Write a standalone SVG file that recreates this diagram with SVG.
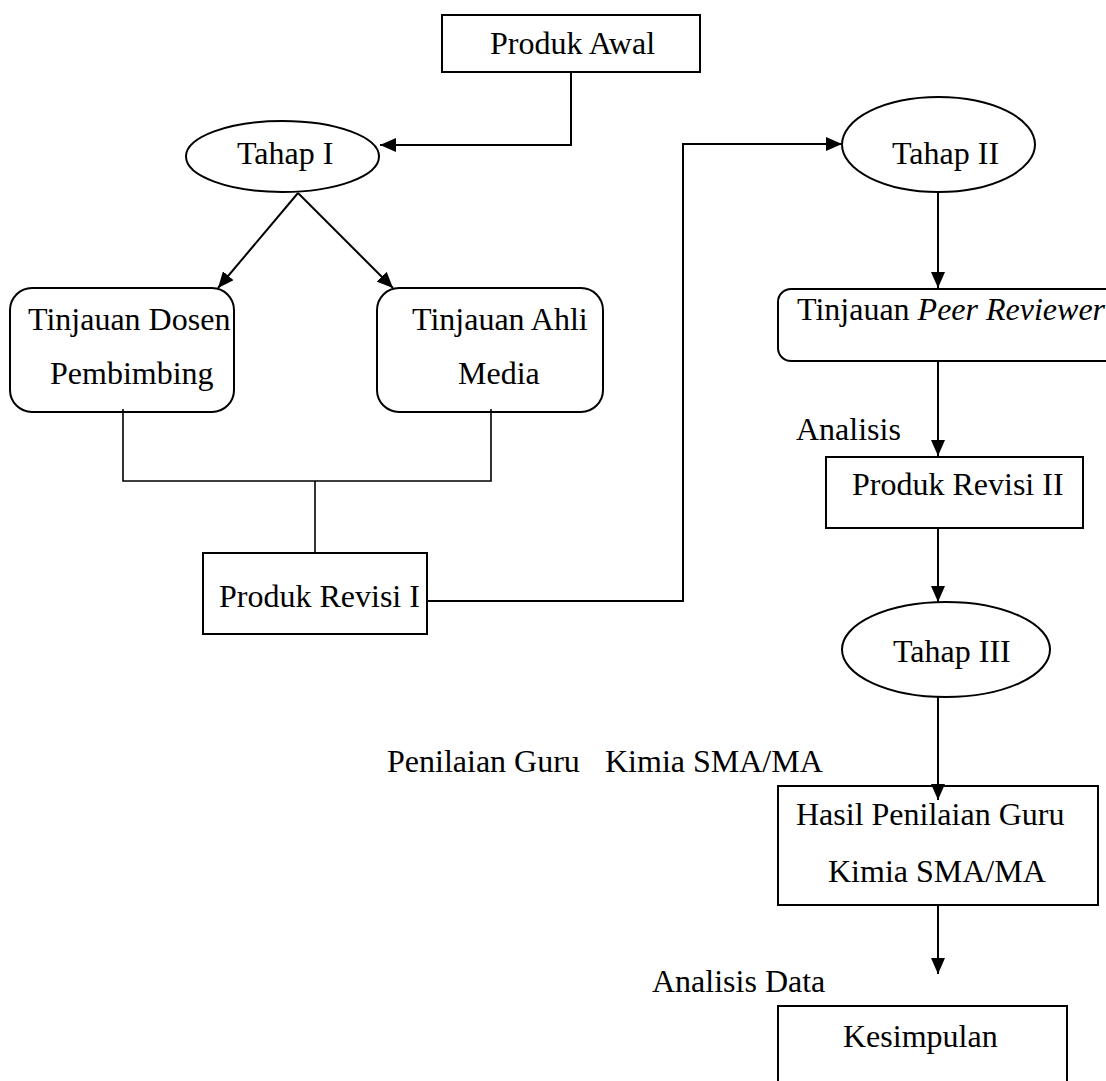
<svg xmlns="http://www.w3.org/2000/svg" width="1106" height="1081" viewBox="0 0 1106 1081">
<style>
.n{fill:#fff;stroke:#000;stroke-width:2}
.t{font-family:'Liberation Serif','Times New Roman',serif;font-size:32px;fill:#000}
.c{fill:none;stroke:#000;stroke-width:2}
.thin{stroke-width:1.6}
</style>
<defs>
<marker id="ah" viewBox="0 0 16 14" refX="16" refY="7" markerWidth="16" markerHeight="14" markerUnits="userSpaceOnUse" orient="auto"><path d="M0,0 L16,7 L0,14 Z" fill="#000"/></marker>
</defs>
<rect width="1106" height="1081" fill="#fff"/>
<g id="produk-awal"><rect class="n" x="442" y="15" width="258" height="57"/><text class="t" x="490" y="54">Produk Awal</text></g>
<g id="tahap-1"><ellipse class="n" cx="282.5" cy="156.5" rx="96.5" ry="35.5"/><text class="t" x="237" y="164">Tahap I</text></g>
<g id="tinjauan-dosen"><rect class="n" x="10" y="288" width="224" height="124" rx="22"/><text class="t" x="28" y="330">Tinjauan Dosen</text><text class="t" x="50" y="384">Pembimbing</text></g>
<g id="tinjauan-ahli"><rect class="n" x="377" y="288" width="226" height="124" rx="22"/><text class="t" x="412" y="330">Tinjauan Ahli</text><text class="t" x="458" y="384">Media</text></g>
<g id="produk-revisi-1"><rect class="n" x="203" y="553" width="224" height="81"/><text class="t" x="219" y="607">Produk Revisi I</text></g>
<g id="tahap-2"><ellipse class="n" cx="938.5" cy="144.5" rx="96.5" ry="47.5"/><text class="t" x="892" y="164">Tahap II</text></g>
<g id="tinjauan-peer"><rect class="n" x="778" y="289" width="340" height="72" rx="13"/><text class="t" x="797" y="320">Tinjauan <tspan font-style="italic">Peer Reviewer</tspan></text></g>
<g id="label-analisis"><text class="t" x="796" y="440">Analisis</text></g>
<g id="produk-revisi-2"><rect class="n" x="826" y="457" width="257" height="71"/><text class="t" x="852" y="495">Produk Revisi II</text></g>
<g id="tahap-3"><ellipse class="n" cx="946" cy="649.5" rx="104" ry="47.5"/><text class="t" x="893" y="662">Tahap III</text></g>
<g id="label-penilaian"><text class="t" x="387" y="772">Penilaian Guru<tspan x="605">Kimia SMA/MA</tspan></text></g>
<g id="hasil-penilaian"><rect class="n" x="778" y="786" width="320" height="119"/><text class="t" x="796" y="825">Hasil Penilaian Guru</text><text class="t" x="828" y="882">Kimia SMA/MA</text></g>
<g id="label-analisis-data"><text class="t" x="652" y="992">Analisis Data</text></g>
<g id="kesimpulan"><rect class="n" x="778" y="1006" width="289" height="100"/><text class="t" x="843" y="1047">Kesimpulan</text></g>
<g id="connectors">
<path class="c" d="M571,72 V145 H380" marker-end="url(#ah)"/>
<path class="c" d="M298,193 L218,288" marker-end="url(#ah)"/>
<path class="c" d="M298,193 L393,288" marker-end="url(#ah)"/>
<path class="c thin" d="M123,409 V481 H491 V409"/>
<path class="c thin" d="M315,481 V553"/>
<path class="c" d="M427,601 H683 V144 H842" marker-end="url(#ah)"/>
<path class="c" d="M938,192 V288" marker-end="url(#ah)"/>
<path class="c" d="M938,361 V456" marker-end="url(#ah)"/>
<path class="c" d="M938,528 V602" marker-end="url(#ah)"/>
<path class="c" d="M938,697 V800" marker-end="url(#ah)"/>
<path class="c" d="M938,905 V974" marker-end="url(#ah)"/>
</g>
</svg>
